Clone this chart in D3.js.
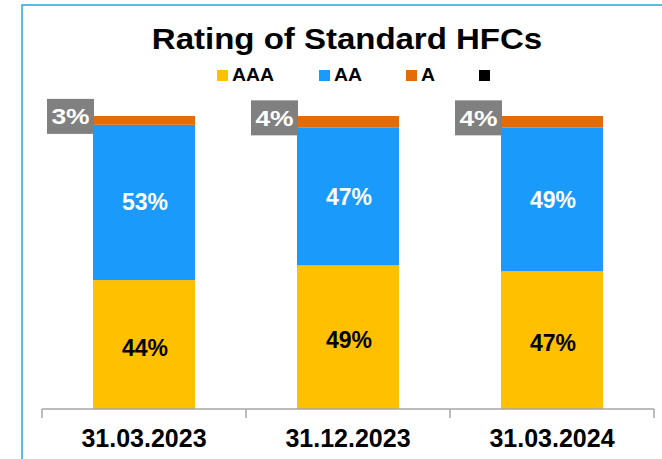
<!DOCTYPE html>
<html>
<head>
<meta charset="utf-8">
<script src="https://cdn.jsdelivr.net/npm/d3@7.9.0/dist/d3.min.js"></script>
<style>
  html, body { margin: 0; padding: 0; background: #fff; }
  svg { display: block; font-family: 'Liberation Sans', Arial, sans-serif; }
</style>
</head>
<body>
<div id="chart"></div>
<script>
const categories = ['31.03.2023', '31.12.2023', '31.03.2024'];
const seriesNames = ['AAA', 'AA', 'A', ''];
const aaa = [44, 49, 47];
const aa = [53, 47, 49];
const a = [3, 4, 4];

const colors = ['#FFC000', '#1A9BFC', '#E36C09', '#000000'];

const width = 662;
const height = 459;

const svg = d3.select('#chart')
    .append('svg')
    .attr('width', width)
    .attr('height', height);

svg.append('rect').attr('width', width).attr('height', height).attr('fill', '#fff');

// chart frame (only left and top edges are visible)
svg.append('path')
    .attr('d', `M22,${height} V5 H${width}`)
    .attr('fill', 'none')
    .attr('stroke', '#1FA6E3')
    .attr('stroke-width', 1.5);

// title
svg.append('text')
    .attr('transform', 'translate(347,49) scale(1.1,1)')
    .attr('text-anchor', 'middle')
    .attr('font-size', 30)
    .attr('font-weight', 'bold')
    .attr('fill', '#000')
    .text('Rating of Standard HFCs');

// legend
const legendX = [217, 319, 406, 479];
const legend = svg.append('g');
seriesNames.forEach((name, i) => {
    legend.append('rect')
        .attr('x', legendX[i])
        .attr('y', 70)
        .attr('width', 11)
        .attr('height', 11)
        .attr('fill', colors[i]);
    legend.append('text')
        .attr('transform', `translate(${legendX[i] + 15},81) scale(1.08,1)`)
        .attr('font-size', 18)
        .attr('font-weight', 'bold')
        .text(name);
});

const x = d3.scaleBand()
    .domain(categories)
    .range([42, 654])
    .paddingInner(0.5)
    .paddingOuter(0.25);

const y = d3.scaleLinear().domain([0, 100]).range([409, 116]);

const rows = categories.map((c, i) => ({ cat: c, AAA: aaa[i], AA: aa[i], A: a[i] }));
const stack = d3.stack().keys(['AAA', 'AA', 'A'])(rows);

const bars = svg.append('g');
stack.forEach((layer, li) => {
    bars.selectAll(null)
        .data(layer)
        .join('rect')
        .attr('x', (d) => x(d.data.cat))
        .attr('y', (d) => y(d[1]))
        .attr('width', x.bandwidth())
        .attr('height', (d) => y(d[0]) - y(d[1]))
        .attr('fill', colors[li]);
});

// axis
const step = x.step();
const x0 = x.range()[0];
const boundaries = d3.range(categories.length + 1).map((i) => x0 + i * step);
const axis = svg.append('g').attr('stroke', '#A6A6A6').attr('stroke-width', 1.5);
axis.append('line')
    .attr('x1', boundaries[0]).attr('x2', boundaries[boundaries.length - 1])
    .attr('y1', y(0)).attr('y2', y(0));
axis.selectAll(null)
    .data(boundaries)
    .join('line')
    .attr('x1', (d) => d).attr('x2', (d) => d)
    .attr('y1', y(0)).attr('y2', y(0) + 9);

svg.append('g')
    .selectAll('text')
    .data(categories)
    .join('text')
    .attr('x', (d) => x(d) + x.bandwidth() / 2)
    .attr('y', 447)
    .attr('text-anchor', 'middle')
    .attr('font-size', 25)
    .attr('font-weight', 'bold')
    .attr('fill', '#000')
    .text((d) => d);

// segment labels
const labelColors = ['#000', '#fff'];
const labelShift = [11, 8];
[0, 1].forEach((li) => {
    svg.append('g')
        .selectAll('text')
        .data(stack[li])
        .join('text')
        .attr('x', (d) => x(d.data.cat) + x.bandwidth() / 2 + 1)
        .attr('y', (d) => (y(d[0]) + y(d[1])) / 2 + labelShift[li])
        .attr('text-anchor', 'middle')
        .attr('font-size', 23)
        .attr('font-weight', 'bold')
        .attr('fill', labelColors[li])
        .text((d) => (d[1] - d[0]) + '%');
});

// "A" labels in grey boxes left of the bar top
const boxW = 47;
const boxH = 35;
const boxes = svg.append('g')
    .selectAll('g')
    .data(stack[2])
    .join('g')
    .attr('transform', (d) => {
        const cy = (y(d[0]) + y(d[1])) / 2 - 4;
        return `translate(${x(d.data.cat) + 1 - boxW},${cy - boxH / 2})`;
    });
boxes.append('rect')
    .attr('width', boxW)
    .attr('height', boxH)
    .attr('fill', '#808080');
boxes.append('text')
    .attr('transform', `translate(${boxW / 2},${boxH / 2 + 8}) scale(1.2,1)`)
    .attr('text-anchor', 'middle')
    .attr('font-size', 22)
    .attr('font-weight', 'bold')
    .attr('fill', '#fff')
    .text((d) => (d[1] - d[0]) + '%');
</script>
</body>
</html>
